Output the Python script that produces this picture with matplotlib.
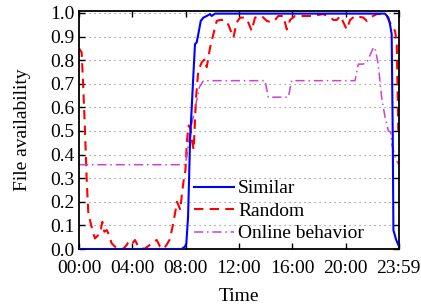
import matplotlib
matplotlib.use("Agg")
import matplotlib.pyplot as plt
import numpy as np

plt.rcParams['font.family'] = ['Liberation Serif', 'DejaVu Serif']

# --- data (hours of day, availability) ---
sim_h = [0, 7.7, 7.95, 8.05, 8.18, 8.33, 8.58, 8.7, 8.83, 8.95, 9.13, 9.33, 9.58,
         9.83, 9.95, 10.2, 22.95, 23.2, 23.33, 23.45, 23.53, 23.58, 23.78, 23.95]
sim_v = [0, 0, 0.01, 0.024, 0.136, 0.46, 0.74, 0.868, 0.875, 0.91, 0.966, 0.98, 0.987,
         0.995, 0.987, 0.997, 0.997, 0.98, 0.95, 0.91, 0.49, 0.08, 0.04, 0.017]

rnd_h = [0, 0.2, 0.32, 0.45, 0.58, 0.7, 0.83, 1.07, 1.2, 1.58, 1.75, 1.9, 2.08, 2.2,
         2.45, 2.7, 2.95, 3.3, 3.58, 3.7, 3.95, 4.2, 4.45, 4.9, 5.3, 5.55, 5.83, 6.08,
         6.33, 6.6, 6.8, 7.0, 7.2, 7.35, 7.5, 7.6, 7.72, 7.85, 7.98, 8.1, 8.22, 8.35,
         8.47, 8.6, 8.78, 8.95, 9.2, 9.45, 9.58, 9.7, 9.83, 10.08, 10.33, 10.58, 10.95,
         11.2, 11.58, 11.83, 12.08, 12.45, 12.65, 12.95, 13.2, 13.7, 14.08, 14.45, 14.7,
         14.95, 15.33, 15.58, 15.83, 16.2, 17.08, 17.55, 18.3, 18.9, 19.08, 19.33, 19.6,
         20.08, 20.33, 20.7, 21.33, 21.58, 21.83, 22.33, 22.83, 23.08, 23.45, 23.7,
         23.83, 23.95]
rnd_v = [0.85, 0.832, 0.685, 0.5, 0.29, 0.15, 0.12, 0.066, 0.045, 0.066, 0.115, 0.073,
         0.08, 0.066, 0.024, 0.01, 0.003, 0.0, 0.017, 0.03, 0.02, 0.038, 0.01, 0.0,
         0.017, 0.03, 0.038, 0.01, 0.0, 0.02, 0.04, 0.09, 0.15, 0.2, 0.18, 0.165, 0.235,
         0.29, 0.333, 0.46, 0.523, 0.51, 0.46, 0.42, 0.643, 0.755, 0.79, 0.805, 0.77,
         0.81, 0.853, 0.91, 0.966, 0.97, 0.97, 0.95, 0.895, 0.96, 0.98, 0.98, 0.966,
         0.924, 0.98, 0.987, 0.966, 0.96, 0.97, 0.987, 0.987, 0.93, 0.97, 0.987, 0.987,
         0.987, 0.995, 0.98, 0.97, 0.97, 0.987, 0.93, 0.97, 0.987, 0.98, 0.966, 0.98,
         0.995, 0.995, 0.987, 0.945, 0.924, 0.875, 0.5]

onl_h = [0, 7.95, 8.08, 8.33, 8.58, 8.83, 9.03, 9.33, 13.95, 14.2, 15.7, 15.95, 20.7,
         20.95, 21.3, 21.58, 22.08, 22.2, 22.45, 22.7, 22.95, 23.2, 23.38, 23.45, 23.7,
         23.95]
onl_v = [0.357, 0.357, 0.39, 0.5, 0.56, 0.63, 0.685, 0.713, 0.713, 0.643, 0.643, 0.713,
         0.713, 0.783, 0.783, 0.79, 0.853, 0.853, 0.78, 0.64, 0.56, 0.5, 0.495, 0.446,
         0.39, 0.36]

xticks = [0, 4, 8, 12, 16, 20, 23.983]
xticklabels = ['00:00', '04:00', '08:00', '12:00', '16:00', '20:00', '23:59']
yticks = [round(0.1 * i, 1) for i in range(11)]

FS = 14

fig = plt.figure(figsize=(4.21, 3.04), dpi=100)
ax = fig.add_axes([79 / 421, 55 / 304, 320 / 421, 238 / 304])

ax.plot(sim_h, sim_v, color='#0000ff', lw=1.5, label='Similar', zorder=3)
ax.plot(rnd_h, rnd_v, color='#ff0000', lw=1.5, dashes=(4.5, 3), label='Random', zorder=2)
ax.plot(onl_h, onl_v, color='#d040d0', lw=1.1, dashes=(6, 2.5, 1, 2.5),
        label='Online behavior', zorder=2)

ax.set_xlim(0, 24)
ax.set_ylim(0, 1.008)
ax.set_xticks(xticks)
ax.set_xticklabels(xticklabels)
ax.set_yticks(yticks)
ax.set_yticklabels([f'{v:.1f}' for v in yticks])

ax.yaxis.grid(True, color='#808080', lw=0.8, dashes=(1, 3.5))
ax.set_axisbelow(True)

ax.tick_params(axis='both', direction='in', top=True, right=True, length=4,
               width=1, labelsize=FS)
ax.tick_params(axis='x', pad=8)
ax.tick_params(axis='y', pad=3)
for s in ax.spines.values():
    s.set_linewidth(1.3)

ax.set_xlabel('Time', fontsize=FS)
ax.set_ylabel('File availability', fontsize=FS)
ax.xaxis.set_label_coords(0.5, -0.165)
ax.yaxis.set_label_coords(-0.15, 0.5)

ax.legend(loc='lower left', bbox_to_anchor=(0.36, 0.028), frameon=False,
          fontsize=FS, handlelength=2.05, handletextpad=0.2, labelspacing=0.25,
          borderpad=0, borderaxespad=0)

fig.savefig('out.png', dpi=100)
